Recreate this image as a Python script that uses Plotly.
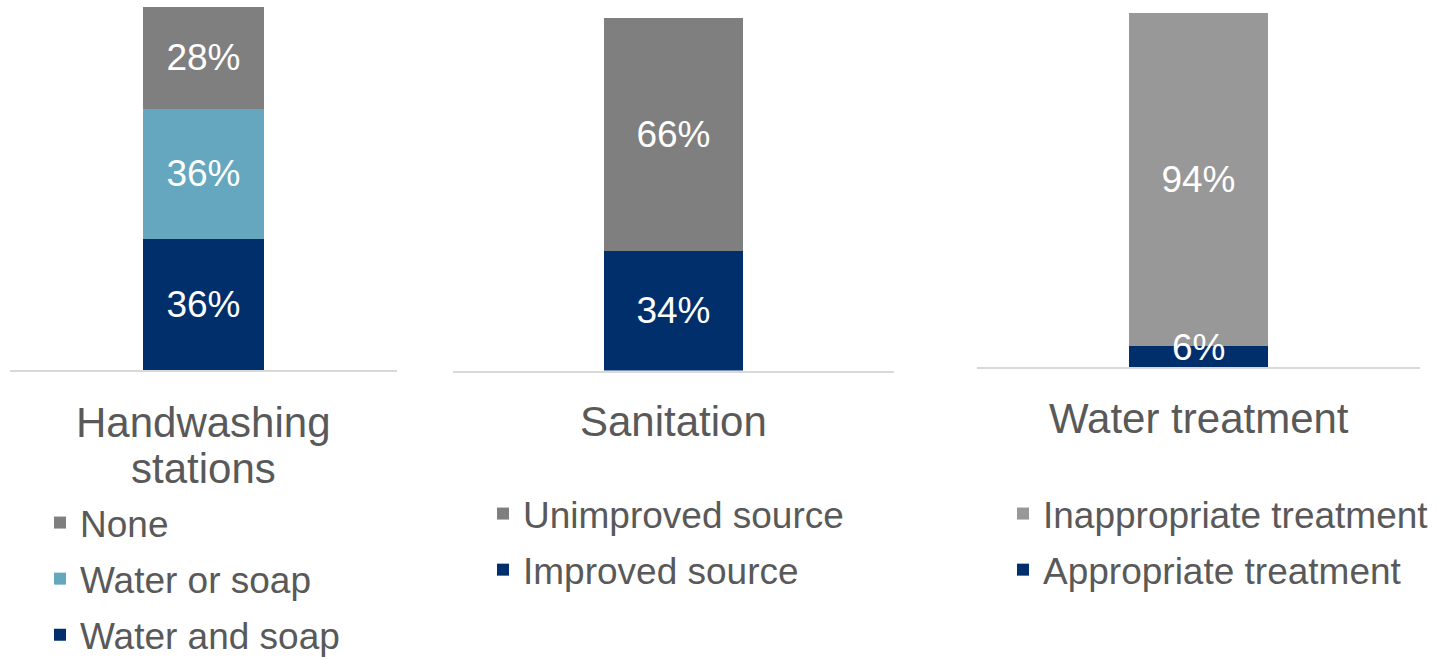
import plotly.graph_objects as go

# ---- data ----
hand_cat = "Handwashing stations"
hand_series = ["Water and soap", "Water or soap", "None"]
hand_values = [36, 36, 28]

san_cat = "Sanitation"
san_series = ["Improved source", "Unimproved source"]
san_values = [34, 66]

water_cat = "Water treatment"
water_series = ["Appropriate treatment", "Inappropriate treatment"]
water_values = [6, 94]

# ---- styling ----
NAVY = "#002F6C"
LIGHT_BLUE = "#64A7BE"
GREY = "#7F7F7F"
LIGHT_GREY = "#989898"
TEXT = "#595959"
FONT = "Liberation Sans, Arial, sans-serif"
W, H = 1438, 660
SMALL_SEGMENT = 10  # segments below this share get their label lifted above the baseline

panels = [
    dict(cat=hand_cat, series=hand_series, values=hand_values,
         colors=[NAVY, LIGHT_BLUE, GREY], xpx=(10, 397), ypx=(370, 7),
         label_lines=[("Handwashing", 422), ("stations", 468)],
         legend_xy=(40, 492)),
    dict(cat=san_cat, series=san_series, values=san_values,
         colors=[NAVY, GREY], xpx=(453, 894), ypx=(370.5, 18),
         label_lines=[("Sanitation", 421)],
         legend_xy=(483, 483)),
    dict(cat=water_cat, series=water_series, values=water_values,
         colors=[NAVY, LIGHT_GREY], xpx=(977, 1420), ypx=(367, 13),
         label_lines=[("Water treatment", 418)],
         legend_xy=(1003, 483)),
]

fig = go.Figure()
layout = dict(
    width=W, height=H,
    margin=dict(l=0, r=0, t=0, b=0, autoexpand=False),
    paper_bgcolor="white", plot_bgcolor="white",
    barmode="stack",
    font=dict(family=FONT, color=TEXT),
    annotations=[],
)

for i, p in enumerate(panels, start=1):
    sfx = "" if i == 1 else str(i)
    xa, ya = "x" + sfx, "y" + sfx
    leg = "legend" + sfx
    n = len(p["series"])
    base = 0
    for k, (name, val, col) in enumerate(zip(p["series"], p["values"], p["colors"])):
        small = val < SMALL_SEGMENT
        fig.add_trace(go.Bar(
            x=[p["cat"]], y=[val], name=name,
            marker=dict(color=col, line=dict(width=0)),
            width=0.315,
            text=[None if small else f"{val}%"], textposition="inside",
            insidetextanchor="middle", constraintext="none",
            textfont=dict(family=FONT, size=37, color="white"),
            xaxis=xa, yaxis=ya, legend=leg,
            legendgroup=f"{leg}-{name}", legendrank=n - k,
            hoverinfo="name+y", cliponaxis=False,
        ))
        if small:
            # label too tall for its segment: keep it inside the plot area
            layout["annotations"].append(dict(
                text=f"{val}%", xref=xa, x=p["cat"], yref=ya, y=base + val / 2,
                yshift=9, xanchor="center", yanchor="middle", showarrow=False,
                font=dict(family=FONT, size=37, color="white"),
            ))
        base += val
    x0, x1 = p["xpx"]
    yb, yt = p["ypx"]
    layout["xaxis" + sfx] = dict(
        domain=[x0 / W, x1 / W], anchor=ya, type="category",
        range=[-0.5, 0.5], showline=True, linecolor="#D9D9D9", linewidth=2,
        showticklabels=False, ticks="", showgrid=False, zeroline=False,
        fixedrange=True,
    )
    layout["yaxis" + sfx] = dict(
        domain=[1 - yb / H, 1 - yt / H], anchor=xa, range=[0, 100],
        visible=False, showgrid=False, zeroline=False, fixedrange=True,
    )
    for text, ypix in p["label_lines"]:
        layout["annotations"].append(dict(
            text=text, xref=xa, x=p["cat"], yref="paper", y=1 - ypix / H,
            xanchor="center", yanchor="middle", showarrow=False,
            font=dict(family=FONT, size=42, color=TEXT),
        ))
    lx, ly = p["legend_xy"]
    layout[leg] = dict(
        x=lx / W, y=1 - ly / H, xanchor="left", yanchor="top",
        orientation="v", traceorder="grouped", tracegroupgap=5,
        font=dict(family=FONT, size=37, color=TEXT),
        bgcolor="rgba(0,0,0,0)", borderwidth=0,
    )

fig.update_layout(**layout)
fig.write_html("out.html")
